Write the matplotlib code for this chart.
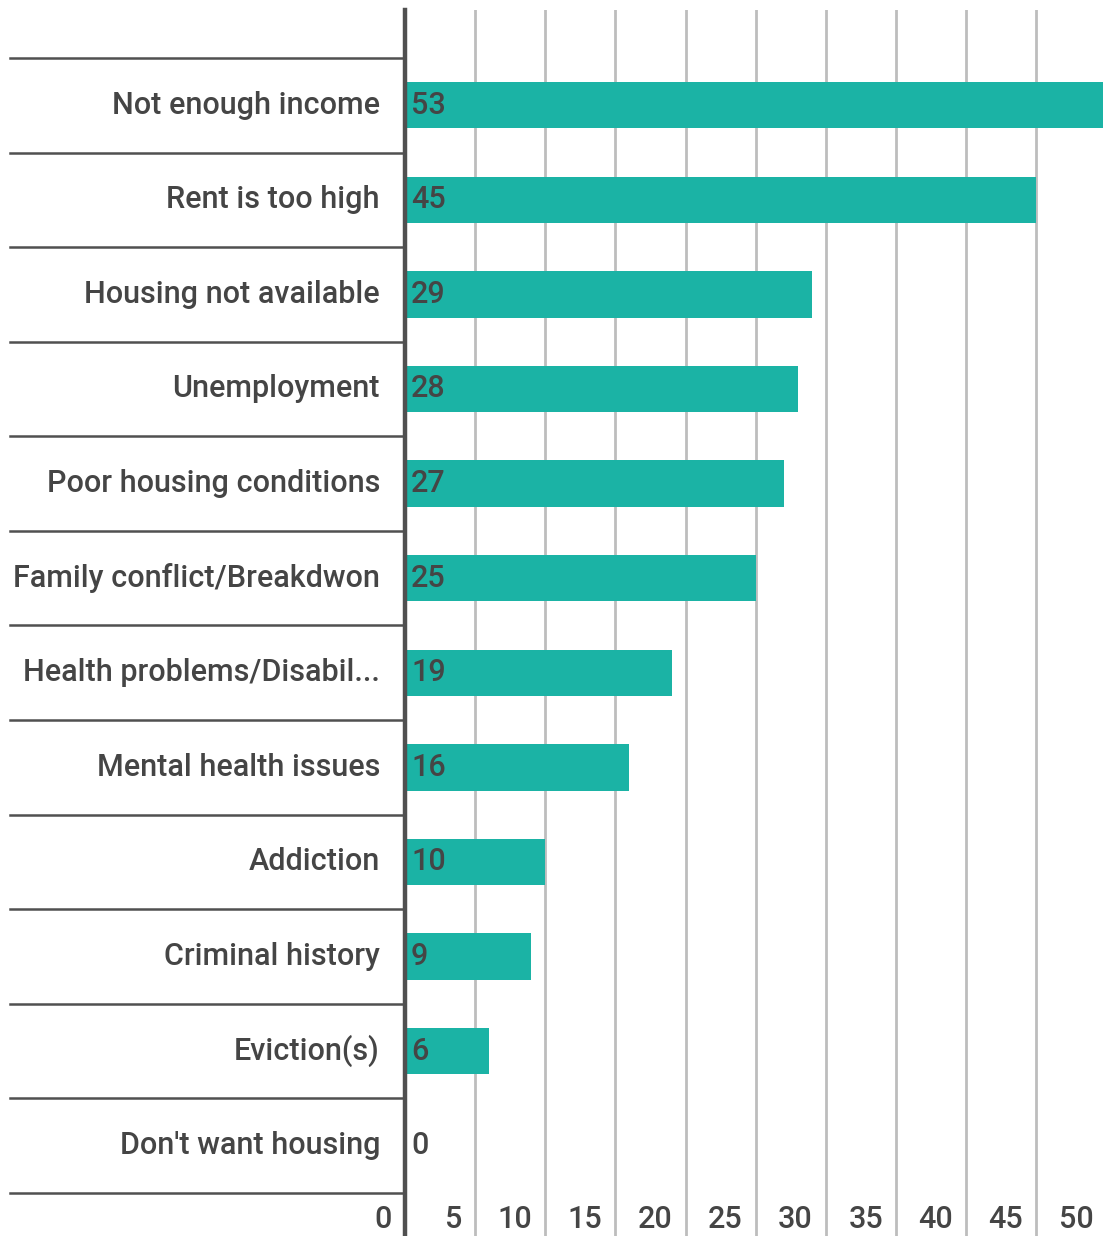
"""Horizontal bar chart: reasons for housing difficulty."""

import matplotlib
matplotlib.use("Agg")
import matplotlib.pyplot as plt
from matplotlib.transforms import blended_transform_factory, ScaledTranslation

categories = [
    "Not enough income",
    "Rent is too high",
    "Housing not available",
    "Unemployment",
    "Poor housing conditions",
    "Family conflict/Breakdwon",
    "Health problems/Disabil...",
    "Mental health issues",
    "Addiction",
    "Criminal history",
    "Eviction(s)",
    "Don't want housing",
]
values = [53, 45, 29, 28, 27, 25, 19, 16, 10, 9, 6, 0]
x_ticks = [0, 5, 10, 15, 20, 25, 30, 35, 40, 45, 50]
x_tick_labels = [str(t) for t in x_ticks]

BAR_COLOR = "#1bb3a5"
TEXT_COLOR = "#454545"
GRID_COLOR = "#bdbdbd"
LINE_COLOR = "#505050"
FS = 22

plt.rcParams["font.family"] = ["Roboto", "DejaVu Sans"]

W, H = 1103, 1236
fig = plt.figure(figsize=(W / 100, H / 100), dpi=100)
ax = fig.add_axes([405 / W, 0, 1 - 405 / W, 1 - 10 / H])

n = len(categories)
rows = list(range(n))

ax.set_xlim(0, 49.75)
ax.set_ylim(n - 0.045, -1.007)

ax.barh(rows, values, height=0.49, color=BAR_COLOR, zorder=2)

# vertical gridlines
for t in x_ticks[1:]:
    ax.axvline(t, color=GRID_COLOR, lw=2, zorder=1)

# main axis line
ax.axvline(0, color=LINE_COLOR, lw=3.2, zorder=3, clip_on=False)

for side in ax.spines.values():
    side.set_visible(False)
ax.set_xticks([])
ax.set_yticks([])

# row separators left of axis
sep = blended_transform_factory(fig.transFigure, ax.transData)
for i in range(n + 1):
    ax.plot([10 / W, 404 / W], [i - 0.5, i - 0.5], transform=sep,
            color=LINE_COLOR, lw=1.8, clip_on=False, zorder=3)

# category labels
for i, name in enumerate(categories):
    ax.text(380 / W, i, name, transform=sep, ha="right", va="center",
            fontsize=FS, color=TEXT_COLOR, fontweight="medium")

# value labels inside bars
val_tr = ax.transData + ScaledTranslation(6 / 100, 0, fig.dpi_scale_trans)
for i, v in enumerate(values):
    ax.text(0, i, str(v), ha="left", va="center", fontsize=FS,
            color=TEXT_COLOR, fontweight="medium", zorder=4, transform=val_tr)

# x tick labels, right-aligned just left of each gridline
tick_tr = blended_transform_factory(ax.transData, ax.transAxes)
tick_tr = tick_tr + ScaledTranslation(-13 / 100, 0, fig.dpi_scale_trans)
for t, s in zip(x_ticks, x_tick_labels):
    ax.text(t, 16 / (H - 10), s, ha="right", va="center", fontsize=FS,
            color=TEXT_COLOR, fontweight="medium", transform=tick_tr)

fig.savefig("out.png", dpi=100)
